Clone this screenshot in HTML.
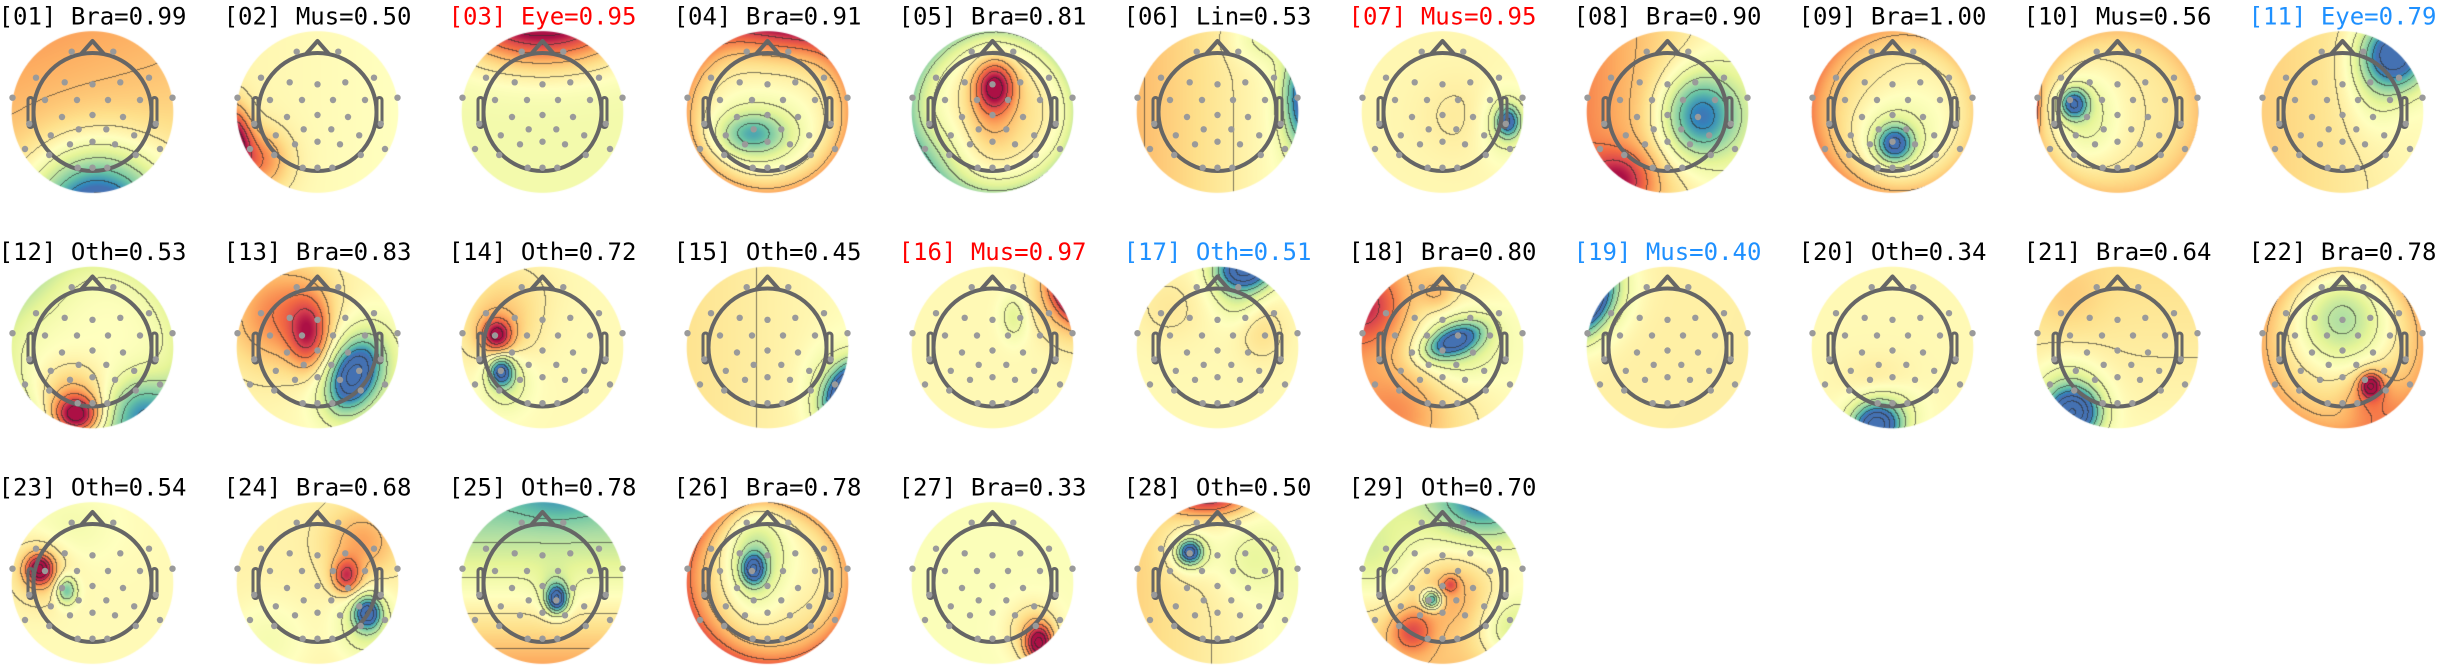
<!DOCTYPE html>
<html><head><meta charset="utf-8">
<style>
html,body{margin:0;padding:0;background:#fff;}
#wrap{position:relative;width:2438px;height:667px;overflow:hidden;background:#fff;}
#cv,#sv{position:absolute;left:0;top:0;}
</style></head><body>
<div id="wrap">
<canvas id="cv" width="2438" height="667"></canvas>
<svg id="sv" width="2438" height="667" xmlns="http://www.w3.org/2000/svg" xmlns:xlink="http://www.w3.org/1999/xlink">
<defs>
<g id="hs">
<g fill="none" stroke="#666" stroke-width="4">
<circle cx="0" cy="0" r="59"/>
<path d="M-11,-58.5 L0,-71 L11,-58.5" stroke-linejoin="round" stroke-linecap="round"/>
</g>
<g fill="none" stroke="#666" stroke-width="3">
<rect x="-64.5" y="-14.5" width="5" height="30" rx="2.5"/>
<rect x="59.5" y="-14.5" width="5" height="30" rx="2.5"/>
</g>
<g fill="#9a9a9a">
<circle cx="-20.8" cy="-60.3" r="3.2"/><circle cx="20.8" cy="-60.3" r="3.2"/>
<circle cx="-56.5" cy="-34.3" r="3.2"/><circle cx="56.5" cy="-34.3" r="3.2"/>
<circle cx="-27.8" cy="-29.7" r="3.2"/><circle cx="27.8" cy="-29.7" r="3.2"/>
<circle cx="0" cy="-27.7" r="3.2"/>
<circle cx="-80" cy="-14.3" r="3.2"/><circle cx="80" cy="-14.3" r="3.2"/>
<circle cx="-47.5" cy="-12" r="3.2"/><circle cx="47.5" cy="-12" r="3.2"/>
<circle cx="-15.5" cy="-12" r="3.2"/><circle cx="15.5" cy="-12" r="3.2"/>
<circle cx="-30.5" cy="5" r="3.2"/><circle cx="30.5" cy="5" r="3.2"/>
<circle cx="0" cy="3" r="3.2"/>
<circle cx="-63.3" cy="11.8" r="3.2"/><circle cx="63.3" cy="11.8" r="3.2"/>
<circle cx="-41.7" cy="23.3" r="3.2"/><circle cx="41.7" cy="23.3" r="3.2"/>
<circle cx="-13.8" cy="17.3" r="3.2"/><circle cx="13.8" cy="17.3" r="3.2"/>
<circle cx="-67.5" cy="37" r="3.2"/><circle cx="67.5" cy="37" r="3.2"/>
<circle cx="-22.5" cy="32.3" r="3.2"/><circle cx="22.5" cy="32.3" r="3.2"/>
<circle cx="0" cy="29.7" r="3.2"/>
<circle cx="-43.3" cy="43" r="3.2"/><circle cx="43.3" cy="43" r="3.2"/>
<circle cx="-14.8" cy="55.7" r="3.2"/><circle cx="14.8" cy="55.7" r="3.2"/>
<circle cx="0" cy="55.7" r="3.2"/>
</g>
</g>
</defs>

<use href="#hs" xlink:href="#hs" x="92.5" y="112"/>
<use href="#hs" xlink:href="#hs" x="317.5" y="112"/>
<use href="#hs" xlink:href="#hs" x="542.5" y="112"/>
<use href="#hs" xlink:href="#hs" x="767.5" y="112"/>
<use href="#hs" xlink:href="#hs" x="992.5" y="112"/>
<use href="#hs" xlink:href="#hs" x="1217.5" y="112"/>
<use href="#hs" xlink:href="#hs" x="1442.5" y="112"/>
<use href="#hs" xlink:href="#hs" x="1667.5" y="112"/>
<use href="#hs" xlink:href="#hs" x="1892.5" y="112"/>
<use href="#hs" xlink:href="#hs" x="2117.5" y="112"/>
<use href="#hs" xlink:href="#hs" x="2342.5" y="112"/>
<use href="#hs" xlink:href="#hs" x="92.5" y="347.5"/>
<use href="#hs" xlink:href="#hs" x="317.5" y="347.5"/>
<use href="#hs" xlink:href="#hs" x="542.5" y="347.5"/>
<use href="#hs" xlink:href="#hs" x="767.5" y="347.5"/>
<use href="#hs" xlink:href="#hs" x="992.5" y="347.5"/>
<use href="#hs" xlink:href="#hs" x="1217.5" y="347.5"/>
<use href="#hs" xlink:href="#hs" x="1442.5" y="347.5"/>
<use href="#hs" xlink:href="#hs" x="1667.5" y="347.5"/>
<use href="#hs" xlink:href="#hs" x="1892.5" y="347.5"/>
<use href="#hs" xlink:href="#hs" x="2117.5" y="347.5"/>
<use href="#hs" xlink:href="#hs" x="2342.5" y="347.5"/>
<use href="#hs" xlink:href="#hs" x="92.5" y="583"/>
<use href="#hs" xlink:href="#hs" x="317.5" y="583"/>
<use href="#hs" xlink:href="#hs" x="542.5" y="583"/>
<use href="#hs" xlink:href="#hs" x="767.5" y="583"/>
<use href="#hs" xlink:href="#hs" x="992.5" y="583"/>
<use href="#hs" xlink:href="#hs" x="1217.5" y="583"/>
<use href="#hs" xlink:href="#hs" x="1442.5" y="583"/>

<g font-family="'DejaVu Sans Mono','Liberation Mono',monospace" font-size="24" text-anchor="middle" fill="#000">
<text x="92.5" y="24.5">[01] Bra=0.99</text>
<text x="317.5" y="24.5">[02] Mus=0.50</text>
<text x="542.5" y="24.5" fill="#ff0000">[03] Eye=0.95</text>
<text x="767.5" y="24.5">[04] Bra=0.91</text>
<text x="992.5" y="24.5">[05] Bra=0.81</text>
<text x="1217.5" y="24.5">[06] Lin=0.53</text>
<text x="1442.5" y="24.5" fill="#ff0000">[07] Mus=0.95</text>
<text x="1667.5" y="24.5">[08] Bra=0.90</text>
<text x="1892.5" y="24.5">[09] Bra=1.00</text>
<text x="2117.5" y="24.5">[10] Mus=0.56</text>
<text x="2342.5" y="24.5" fill="#1e90ff">[11] Eye=0.79</text>

<text x="92.5" y="260">[12] Oth=0.53</text>
<text x="317.5" y="260">[13] Bra=0.83</text>
<text x="542.5" y="260">[14] Oth=0.72</text>
<text x="767.5" y="260">[15] Oth=0.45</text>
<text x="992.5" y="260" fill="#ff0000">[16] Mus=0.97</text>
<text x="1217.5" y="260" fill="#1e90ff">[17] Oth=0.51</text>
<text x="1442.5" y="260">[18] Bra=0.80</text>
<text x="1667.5" y="260" fill="#1e90ff">[19] Mus=0.40</text>
<text x="1892.5" y="260">[20] Oth=0.34</text>
<text x="2117.5" y="260">[21] Bra=0.64</text>
<text x="2342.5" y="260">[22] Bra=0.78</text>

<text x="92.5" y="495.5">[23] Oth=0.54</text>
<text x="317.5" y="495.5">[24] Bra=0.68</text>
<text x="542.5" y="495.5">[25] Oth=0.78</text>
<text x="767.5" y="495.5">[26] Bra=0.78</text>
<text x="992.5" y="495.5">[27] Bra=0.33</text>
<text x="1217.5" y="495.5">[28] Oth=0.50</text>
<text x="1442.5" y="495.5">[29] Oth=0.70</text>
</g>
</svg>
</div>
<script>
(function(){
var M=[
{b:0.3,gx:-0.05,gy:-0.12,g:[[-1.35,0.05,1.3,0.55,0.55,0]]},
{b:0.03,gx:-0.03,g:[[1.1,-1.05,0.4,0.15,0.3,0],[0.3,-0.7,0.65,0.25,0.25,0],[0.2,-0.75,0.5,0.25,0.25,0]]},
{b:-0.1,g:[[1.45,0,-1.25,0.75,0.42,0]]},
{b:0.05,r4:0.4,g:[[0.6,0.2,-1.2,0.5,0.35,0],[-0.5,-0.19,0.27,0.27,0.17,0],[-0.25,-0.1,0.3,0.45,0.35,0]]},
{b:0.12,gx:0.1,r4:-0.5,g:[[0.8,0.03,-0.32,0.16,0.2,0],[0.3,0,-0.05,0.22,0.35,0],[-0.15,-0.7,0.5,0.3,0.3,0]]},
{b:0.15,gx:-0.2,g:[[-1.0,1.08,-0.15,0.18,0.42,0],[-0.2,0.6,-0.9,0.3,0.2,0]]},
{b:0.05,g:[[-0.85,0.81,0.12,0.1,0.13,0],[-0.25,0.78,0.15,0.22,0.3,0],[0.08,0.2,0.05,0.35,0.35,0]]},
{b:0.22,gx:-0.3,g:[[-0.95,0.4,0.05,0.33,0.37,0],[0.6,-0.6,0.85,0.28,0.25,0]]},
{b:0.1,gx:-0.15,r4:0.3,g:[[-0.9,0.03,0.4,0.15,0.15,0],[-0.3,0.0,0.3,0.33,0.33,0]]},
{b:0.12,r4:0.2,g:[[-0.95,-0.54,-0.1,0.12,0.13,0],[-0.3,-0.4,0.05,0.3,0.4,0],[0.9,-1.08,-0.1,0.07,0.25,0]]},
{b:0.15,gx:-0.12,g:[[-1.2,0.65,-0.72,0.28,0.3,0],[-0.2,0.4,-0.3,0.25,0.4,0]]},

{b:0.0,r4:-0.18,g:[[1.1,-0.2,0.85,0.2,0.17,0],[0.3,-0.25,0.55,0.3,0.25,0],[-0.6,0.6,0.8,0.3,0.3,0],[-0.15,-0.8,-0.8,0.4,0.4,0]]},
{b:0.05,g:[[0.65,-0.1,-0.15,0.17,0.3,0],[0.5,-0.45,-0.4,0.45,0.45,0],[-1.0,0.45,0.35,0.18,0.3,24],[-0.4,0.5,0.3,0.4,0.45,0]]},
{b:0.03,g:[[0.8,-0.56,-0.15,0.12,0.13,0],[0.3,-0.55,-0.2,0.3,0.3,0],[-0.95,-0.51,0.3,0.1,0.12,0],[-0.3,-0.45,0.4,0.2,0.25,0],[0.12,-0.4,-0.7,0.4,0.3,0]]},
{b:0.1,gx:-0.08,g:[[-1.1,0.95,0.5,0.13,0.25,30],[-0.35,0.85,0.55,0.25,0.35,0]]},
{b:0.04,g:[[1.2,0.97,-0.6,0.12,0.28,-36],[0.3,0.8,-0.45,0.2,0.35,-36],[-0.25,0.27,-0.38,0.12,0.2,0]]},
{b:0.04,g:[[-1.2,0.35,-0.97,0.25,0.17,0],[-0.3,0.25,-0.7,0.22,0.25,0],[0.15,0.55,-0.2,0.2,0.25,0],[0.1,-0.6,-0.5,0.3,0.3,0]]},
{b:0.2,gx:-0.2,g:[[0.5,-0.95,-0.5,0.3,0.3,0],[-0.9,0.15,-0.08,0.25,0.12,-22],[-0.45,0.15,-0.05,0.38,0.33,0],[0.2,-0.05,-0.65,0.15,0.15,0],[0.2,-0.5,0.8,0.35,0.35,0]]},
{b:0.1,g:[[-1.2,-0.95,-0.55,0.15,0.3,30],[-0.3,-0.8,-0.5,0.25,0.4,30]]},
{b:0.04,g:[[-1.2,-0.2,0.97,0.2,0.17,0],[-0.3,-0.1,0.78,0.28,0.22,0],[0.1,-0.2,0.4,0.3,0.2,0]]},
{b:0.12,gy:-0.08,g:[[-1.2,-0.55,0.82,0.22,0.2,0],[-0.4,-0.6,0.6,0.3,0.3,0],[0.1,-0.6,-0.6,0.3,0.3,0]]},
{b:0.22,r4:0.2,g:[[-0.6,0.0,-0.35,0.42,0.45,0],[0.85,0.35,0.47,0.09,0.1,0],[0.3,0.35,0.62,0.22,0.25,0]]},

{b:0.03,g:[[1.0,-0.65,-0.17,0.11,0.12,0],[0.3,-0.65,-0.15,0.25,0.28,0],[-0.65,-0.32,0.09,0.09,0.12,0],[-0.12,-0.3,-0.7,0.4,0.3,0]]},
{b:0.08,g:[[0.7,0.36,-0.08,0.12,0.15,0],[0.35,0.55,-0.5,0.3,0.3,0],[-1.0,0.62,0.37,0.11,0.13,0],[-0.35,0.6,0.5,0.25,0.3,0],[-0.15,-0.6,0.7,0.35,0.35,0]]},
{b:-0.08,gy:0.5,g:[[-1.1,0.18,0.2,0.09,0.12,0],[-0.2,0.15,0.1,0.15,0.2,0],[-0.15,0.2,-1.0,0.35,0.2,0]]},
{b:0.1,gx:-0.1,gy:0.1,r4:0.45,g:[[-0.95,-0.17,-0.17,0.1,0.13,0],[-0.45,-0.15,-0.3,0.25,0.45,0]]},
{b:-0.03,g:[[1.1,0.58,0.75,0.11,0.15,0],[0.3,0.5,0.6,0.22,0.25,0]]},
{b:0.1,gx:-0.15,g:[[0.75,-0.1,-1.05,0.35,0.15,0],[-1.0,-0.34,-0.38,0.1,0.1,0],[-0.3,-0.34,-0.38,0.2,0.2,0],[-0.2,0.4,-0.3,0.3,0.3,0]]},
{b:0.05,gy:0.25,g:[[-0.65,0.5,-1.0,0.4,0.3,0],[0.3,0.1,0.1,0.35,0.35,0],[-0.45,0.9,0.6,0.3,0.3,0],[0.5,-0.38,0.6,0.18,0.18,0],[0.4,0.1,0.02,0.07,0.07,0],[-1.0,-0.13,0.21,0.08,0.08,0],[-0.2,-0.9,-0.3,0.35,0.35,0]]}
];
var S=[[158,1,66],[213,62,79],[244,109,67],[253,174,97],[254,224,139],[255,255,191],[230,245,152],[171,221,164],[102,194,165],[50,136,189],[94,79,162]];
function cmap(v){if(v>0.95)v=0.95;if(v<-0.88)v=-0.88;var t=(1-v)/2;var f=t*10,i=Math.floor(f);if(i>9)i=9;if(i<0)i=0;var u=f-i,a=S[i],b=S[i+1];
return [a[0]+(b[0]-a[0])*u,a[1]+(b[1]-a[1])*u,a[2]+(b[2]-a[2])*u];}
function field(m,x,y){var v=m.b+(m.gx||0)*x+(m.gy||0)*y;if(m.r4){var r2=x*x+y*y;v+=m.r4*r2*r2;}
for(var k=0;k<m.g.length;k++){var g=m.g[k],dx=x-g[1],dy=y-g[2];if(g[5]){var th=g[5]*Math.PI/180,c=Math.cos(th),s=Math.sin(th),ex=dx*c+dy*s,ey=-dx*s+dy*c;dx=ex;dy=ey;}
v+=g[0]*Math.exp(-(dx*dx/(2*g[3]*g[3])+dy*dy/(2*g[4]*g[4])));}return v;}
var cv=document.getElementById('cv'),ctx=cv.getContext('2d');
var W=2438,H=667,img=ctx.createImageData(W,H),D=img.data;
var R=81,N=2*84+1,STEP=0.22;
for(var i=0;i<M.length;i++){
 var col=i%11,row=Math.floor(i/11);
 var cx=92.5+225*col,cy=112+235.5*row;
 var x0=Math.floor(cx)-84,y0=Math.floor(cy)-84;
 var vals=new Float32Array(N*N);
 for(var yy=0;yy<N;yy++)for(var xx=0;xx<N;xx++){
  var px=x0+xx+0.5,py=y0+yy+0.5;
  vals[yy*N+xx]=field(M[i],(px-cx)/R,(py-cy)/R);
 }
 for(var yy=0;yy<N-1;yy++)for(var xx=0;xx<N-1;xx++){
  var X=x0+xx,Y=y0+yy;if(X<0||Y<0||X>=W||Y>=H)continue;
  var px=X+0.5,py=Y+0.5,d=Math.sqrt((px-cx)*(px-cx)+(py-cy)*(py-cy));
  var a=R+0.3-d;if(a<=0)continue;if(a>1)a=1;
  var v=vals[yy*N+xx];var c=cmap(v);
  var L=Math.floor((v-0.11)/STEP),L1=Math.floor((vals[yy*N+xx+1]-0.11)/STEP),L2=Math.floor((vals[(yy+1)*N+xx]-0.11)/STEP);
  if(L!==L1||L!==L2){var k=0.62;c=[c[0]*(1-k)+45*k,c[1]*(1-k)+45*k,c[2]*(1-k)+45*k];}
  var o=(Y*W+X)*4;
  D[o]=c[0]*a+255*(1-a);D[o+1]=c[1]*a+255*(1-a);D[o+2]=c[2]*a+255*(1-a);D[o+3]=255;
 }
}
for(var o=0;o<D.length;o+=4){if(D[o+3]===0){D[o]=255;D[o+1]=255;D[o+2]=255;D[o+3]=255;}}
ctx.putImageData(img,0,0);
})();
</script>
</body></html>
